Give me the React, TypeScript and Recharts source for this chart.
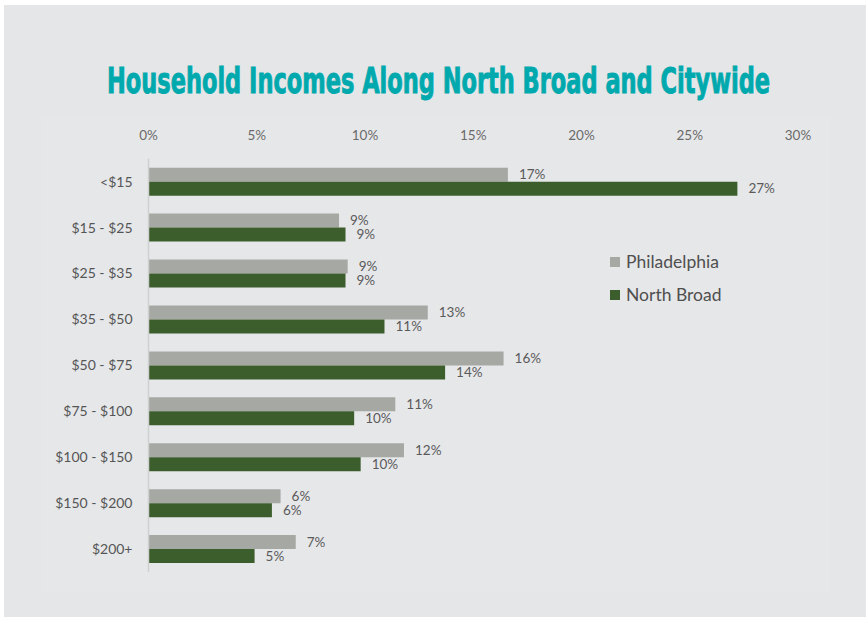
import React from "react";
import { BarChart, Bar, XAxis, YAxis, LabelList } from "recharts";

const categories = ["<$15", "$15 - $25", "$25 - $35", "$35 - $50", "$50 - $75", "$75 - $100", "$100 - $150", "$150 - $200", "$200+"];
const philadelphia = [16.6, 8.8, 9.2, 12.9, 16.4, 11.4, 11.8, 6.1, 6.8];
const northBroad = [27.2, 9.1, 9.1, 10.9, 13.7, 9.5, 9.8, 5.7, 4.9];
const xTicks = [0, 5, 10, 15, 20, 25, 30];
const seriesNames = ["Philadelphia", "North Broad"];

const data = categories.map((c, i) => ({ name: c, philadelphia: philadelphia[i], northBroad: northBroad[i] }));

const GRAY = "#a5a8a3";
const GREEN = "#3c5e2c";
const FONT = "Lato, 'Open Sans', sans-serif";

const pct = (v: any) => `${Math.round(Number(v))}%`;

const LegendBox = () => (
  <div style={{ position: "absolute", left: 610, top: 245, width: 170, fontFamily: FONT, fontSize: 17.5, color: "#4f4f4f" }}>
    {[
      { label: seriesNames[0], color: GRAY },
      { label: seriesNames[1], color: GREEN },
    ].map((it) => (
      <div key={it.label} style={{ display: "flex", alignItems: "center", height: 33 }}>
        <span style={{ display: "inline-block", width: 10, height: 10, background: it.color, marginRight: 6 }} />
        <span>{it.label}</span>
      </div>
    ))}
  </div>
);

export default function App() {
  return (
    <div style={{ position: "absolute", left: 0, top: 0, width: 868, height: 619, background: "#ffffff", overflow: "hidden" }}>
      <div style={{ position: "absolute", left: 4, top: 5, width: 862, height: 612, background: "#e5e6e8" }} />
      <div style={{ position: "absolute", left: 41, top: 117, width: 789, height: 475, background: "#e6e7e9" }} />
      <svg style={{ position: "absolute", left: 0, top: 0 }} width={868} height={120}>
        <text
          x={107}
          y={93}
          textLength={663}
          lengthAdjust="spacingAndGlyphs"
          fill="#00a9ad"
          stroke="#00a9ad"
          strokeWidth={0.9}
          style={{ fontFamily: "'DejaVu Sans Condensed', 'DejaVu Sans', sans-serif", fontWeight: 700, fontSize: 35 }}
        >
          Household Incomes Along North Broad and Citywide
        </text>
      </svg>
      <div style={{ position: "absolute", left: 0, top: 0 }}>
        <BarChart
          width={868}
          height={619}
          data={data}
          layout="vertical"
          margin={{ top: 128.7, right: 70, bottom: 47, left: 0 }}
          barGap={0}
          barSize={14}
        >
          <XAxis
            type="number"
            orientation="top"
            domain={[0, 30]}
            ticks={xTicks}
            tickFormatter={(v) => `${v}%`}
            axisLine={false}
            tickLine={false}
            height={30}
            tickMargin={13}
            tick={{ fill: "#6a6a6a", fontSize: 13.5, fontFamily: FONT }}
            interval={0}
          />
          <YAxis
            type="category"
            dataKey="name"
            width={148.5}
            axisLine={{ stroke: "#cfd0d0", strokeWidth: 1.5 }}
            tickLine={false}
            tickMargin={10}
            tick={{ fill: "#555555", fontSize: 14, fontFamily: FONT }}
            interval={0}
          />
          <Bar dataKey="philadelphia" name={seriesNames[0]} fill={GRAY} isAnimationActive={false}>
            <LabelList dataKey="philadelphia" position="right" offset={11} formatter={pct} fill="#5a5a5a" fontSize={13.5} fontFamily={FONT} />
          </Bar>
          <Bar dataKey="northBroad" name={seriesNames[1]} fill={GREEN} isAnimationActive={false}>
            <LabelList dataKey="northBroad" position="right" offset={11} formatter={pct} fill="#5a5a5a" fontSize={13.5} fontFamily={FONT} />
          </Bar>
        </BarChart>
      </div>
      <LegendBox />
    </div>
  );
}
